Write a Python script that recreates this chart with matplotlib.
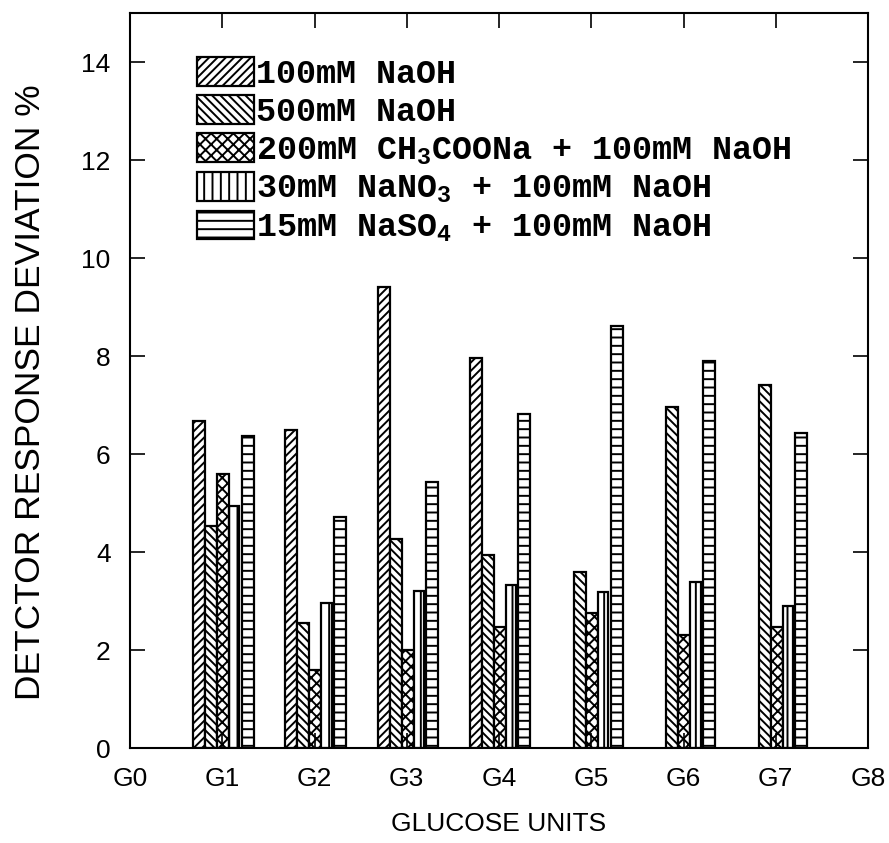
import numpy as np
import matplotlib
matplotlib.use('Agg')
import matplotlib.pyplot as plt

# glucose units on the x axis
groups = [1, 2, 3, 4, 5, 6, 7]
tick_labels = ['G0', 'G1', 'G2', 'G3', 'G4', 'G5', 'G6', 'G7', 'G8']

# detector response deviation (%) per eluent
naoh_100 = [6.67, 6.50, 9.40, 7.95, np.nan, np.nan, np.nan]
naoh_500 = [4.54, 2.55, 4.27, 3.94, 3.59, 6.96, 7.41]
acetate = [5.59, 1.60, 1.99, 2.46, 2.75, 2.30, 2.46]
nitrate = [4.93, 2.96, 3.20, 3.33, 3.18, 3.39, 2.90]
sulfate = [6.36, 4.72, 5.42, 6.82, 8.62, 7.90, 6.43]

labels = ['100mM NaOH',
          '500mM NaOH',
          '200mM CH$_3$COONa + 100mM NaOH',
          '30mM NaNO$_3$ + 100mM NaOH',
          '15mM NaSO$_4$ + 100mM NaOH']

plt.rcParams['mathtext.default'] = 'regular'
plt.rcParams['hatch.linewidth'] = 1.4

fig = plt.figure(figsize=(8.89, 8.43), dpi=100)
ax = fig.add_axes([130/889, 95/843, 738/889, 735/843])

series = [naoh_100, naoh_500, acetate, nitrate, sulfate]
hatches = ['////', '\\\\\\\\', 'xxx', '||', '--']
offsets = [-0.25, -0.12, 0.01, 0.13, 0.275]
widths = [0.13, 0.13, 0.13, 0.11, 0.13]

x = np.array(groups, dtype=float)
for vals, h, off, w, lab in zip(series, hatches, offsets, widths, labels):
    ax.bar(x + off, vals, width=w, facecolor='white', edgecolor='black',
           linewidth=1.6, hatch=h, label=lab)

ax.set_xlim(0, 8)
ax.set_ylim(0, 15)
ax.set_xticks(range(9))
ax.set_xticklabels(tick_labels)
ax.set_yticks(range(0, 15, 2))
ax.tick_params(direction='in', top=True, right=True, length=11, width=1.2,
               labelsize=19)
ax.tick_params(axis='y', pad=14)
ax.tick_params(axis='x', pad=14)
for lbl in ax.get_xticklabels() + ax.get_yticklabels():
    lbl.set_family('Liberation Sans')
for s in ax.spines.values():
    s.set_linewidth(1.5)

ax.set_ylabel('DETCTOR RESPONSE DEVIATION %', fontsize=25.5,
              family='Liberation Sans')
ax.yaxis.set_label_coords(-0.112, 0.484)
ax.set_xlabel('GLUCOSE UNITS', fontsize=19, family='Liberation Sans',
              labelpad=15)

leg = ax.legend(loc='upper left', bbox_to_anchor=(0.091, 0.94), frameon=False,
                borderpad=0, borderaxespad=0, handlelength=1.72,
                handleheight=0.95, handletextpad=0.05, labelspacing=0.16,
                prop={'family': 'Liberation Mono', 'weight': 'bold', 'size': 24})

fig.savefig('out.png', dpi=100)
